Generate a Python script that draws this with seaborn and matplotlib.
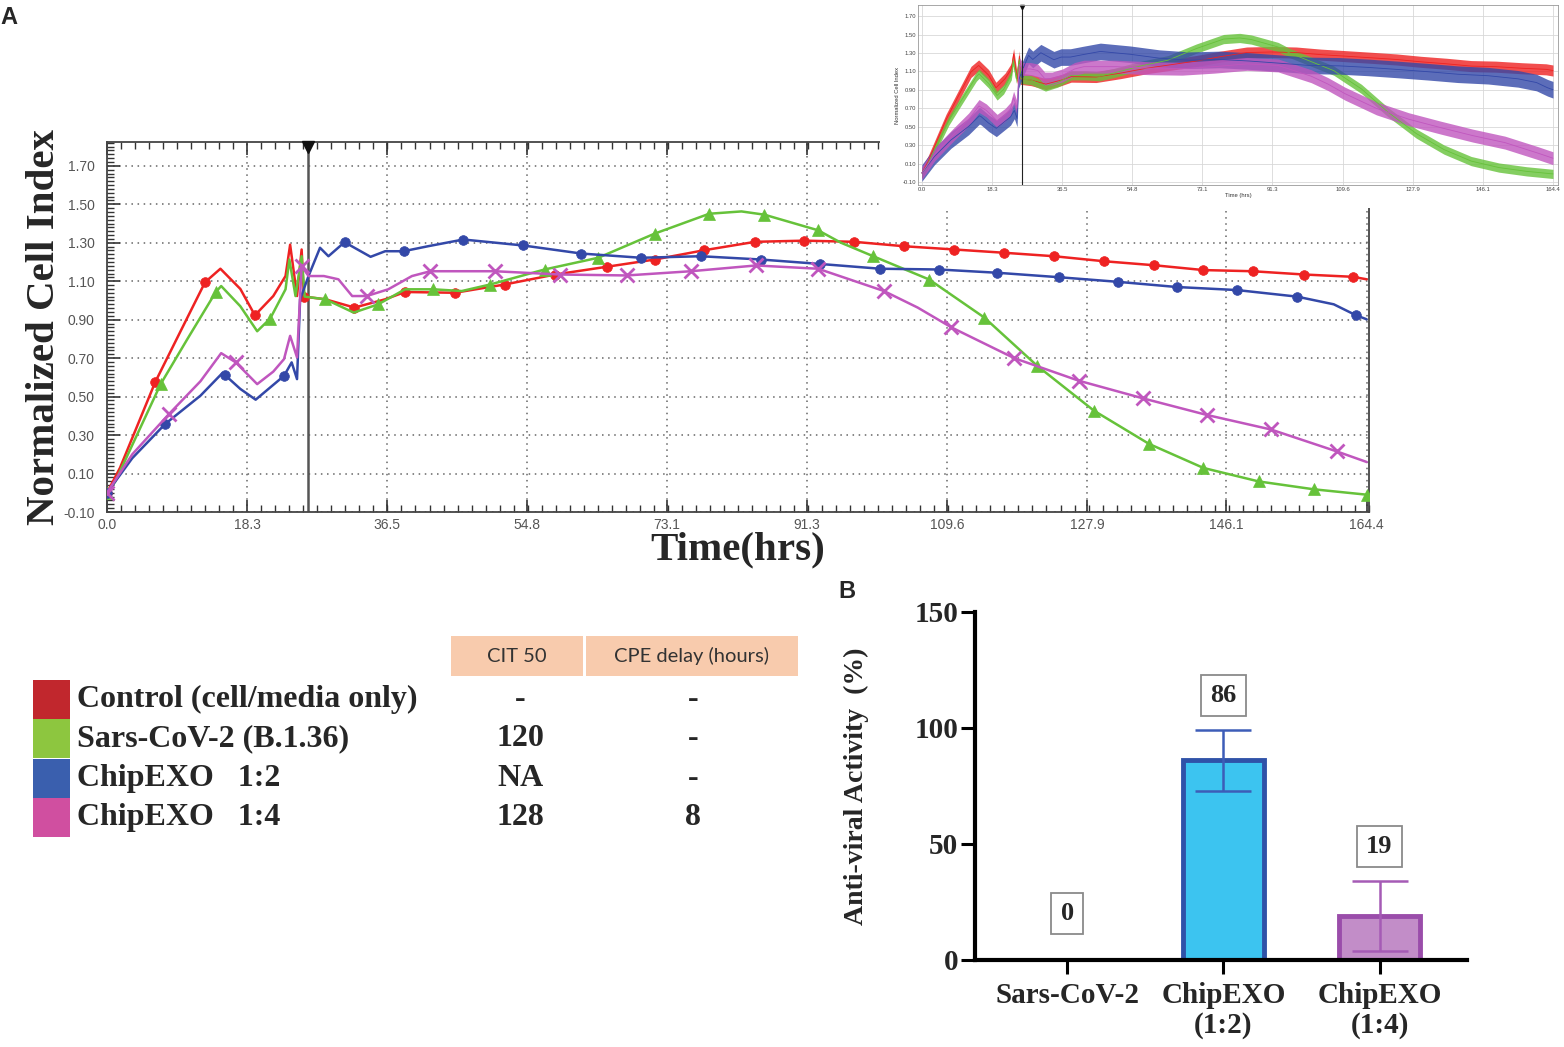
import numpy as np
import matplotlib
matplotlib.use("Agg")
import matplotlib.pyplot as plt
from matplotlib.ticker import AutoMinorLocator
from matplotlib.patches import Rectangle
import seaborn as sns

sns.set_theme(style="white")
plt.rcParams['font.family'] = ['Liberation Sans', 'DejaVu Sans']
SERIF = ['Liberation Serif', 'DejaVu Serif']

# ---- panel A : normalized cell index (hours, value) ----
ctrl_t = [0.0, 1.7, 6.3, 9.6, 12.8, 14.8, 17.4, 19.3, 21.7, 23.3, 23.9, 24.8, 25.4, 25.7,
          28.5, 32.3, 36.3, 38.9, 45.4, 51.9, 58.5, 65.2, 71.5, 77.9, 84.6, 91.0, 97.5,
          104.0, 110.6, 117.1, 123.6, 130.1, 136.7, 143.1, 149.5, 156.2, 162.6, 164.4]
ctrl_v = [0.0, 0.13, 0.576, 0.84, 1.095, 1.165, 1.06, 0.923, 1.023, 1.127, 1.29, 1.023, 1.265, 1.02,
          1.006, 0.963, 1.006, 1.044, 1.04, 1.083, 1.135, 1.175, 1.213, 1.261, 1.305, 1.311, 1.305,
          1.282, 1.265, 1.248, 1.230, 1.204, 1.183, 1.158, 1.152, 1.135, 1.123, 1.11]
ctrl_mk = [0.0, 6.3, 12.8, 19.3, 25.7, 32.3, 38.9, 45.4, 51.9, 58.5, 65.2, 71.5, 77.9, 84.6,
           91.0, 97.5, 104.0, 110.6, 117.1, 123.6, 130.1, 136.7, 143.1, 149.5, 156.2, 162.6]

sars_t = [0.0, 1.1, 7.0, 10.5, 14.2, 14.9, 17.4, 19.6, 21.3, 23.3, 23.8, 24.6, 25.4, 25.8,
          28.5, 32.2, 35.4, 38.9, 42.6, 46.3, 50.0, 57.1, 64.1, 71.5, 78.6, 82.8, 85.8, 92.8,
          95.8, 100.0, 107.3, 114.5, 121.4, 128.8, 136.0, 143.1, 150.3, 157.5, 164.4]
sars_v = [0.0, 0.06, 0.565, 0.80, 1.044, 1.075, 0.97, 0.84, 0.906, 1.058, 1.213, 1.023, 1.23, 1.02,
          1.006, 0.937, 0.98, 1.058, 1.058, 1.049, 1.083, 1.161, 1.222, 1.348, 1.451, 1.463, 1.446, 1.365,
          1.30, 1.23, 1.109, 0.911, 0.66, 0.427, 0.254, 0.129, 0.059, 0.018, -0.01]
sars_mk = [0.0, 7.0, 14.2, 21.3, 28.5, 35.4, 42.6, 50.0, 57.1, 64.1, 71.5, 78.6, 85.8, 92.8,
           100.0, 107.3, 114.5, 121.4, 128.8, 136.0, 143.1, 150.3, 157.5, 164.4]

exo12_t = [0.0, 3.3, 7.6, 12.2, 15.0, 15.4, 17.4, 19.4, 23.1, 24.1, 24.8, 25.2, 25.6, 26.3,
           27.8, 28.9, 31.0, 34.4, 36.3, 38.7, 41.9, 46.5, 54.3, 61.9, 69.7, 77.5, 85.3, 93.0,
           100.9, 108.6, 116.2, 124.2, 131.9, 139.6, 147.5, 155.3, 160.1, 163.0, 164.4]
exo12_v = [0.0, 0.18, 0.358, 0.505, 0.62, 0.612, 0.54, 0.484, 0.608, 0.678, 0.591, 1.006, 1.05, 1.127,
           1.274, 1.23, 1.303, 1.227, 1.256, 1.256, 1.282, 1.317, 1.286, 1.244, 1.222, 1.23, 1.213, 1.19,
           1.165, 1.161, 1.144, 1.121, 1.097, 1.07, 1.054, 1.02, 0.98, 0.923, 0.902]
exo12_mk = [0.0, 7.6, 15.4, 23.1, 31.0, 38.7, 46.5, 54.3, 61.9, 69.7, 77.5, 85.3, 93.0,
            100.9, 108.6, 116.2, 124.2, 131.9, 139.6, 147.5, 155.3, 163.0]

exo14_t = [0.0, 3.3, 8.1, 12.2, 14.9, 16.8, 19.6, 21.7, 23.1, 23.9, 24.8, 25.4, 26.3, 28.3,
           30.2, 32.0, 33.9, 36.7, 39.8, 42.2, 50.6, 59.1, 67.8, 76.2, 84.7, 92.8, 101.4, 105.8,
           110.2, 118.4, 126.8, 135.2, 143.5, 151.9, 160.5, 164.4]
exo14_v = [0.0, 0.20, 0.41, 0.58, 0.726, 0.678, 0.565, 0.63, 0.695, 0.816, 0.704, 1.178, 1.127, 1.127,
           1.11, 1.023, 1.023, 1.058, 1.127, 1.152, 1.152, 1.135, 1.13, 1.152, 1.182, 1.165, 1.049, 0.963,
           0.86, 0.70, 0.583, 0.491, 0.405, 0.329, 0.215, 0.16]
exo14_mk = [0.0, 8.1, 16.8, 25.4, 33.9, 42.2, 50.6, 59.1, 67.8, 76.2, 84.7, 92.8, 101.4,
            110.2, 118.4, 126.8, 135.2, 143.5, 151.9, 160.5]

# spread of the replicate band shown in the small inset
band_hw = [0.06, 0.05, 0.09, 0.07]

x_tick_labels = ["0.0", "18.3", "36.5", "54.8", "73.1", "91.3", "109.6", "127.9", "146.1", "164.4"]
y_tick_values = [-0.10, 0.10, 0.30, 0.50, 0.70, 0.90, 1.10, 1.30, 1.50, 1.70]
treat_time = 26.2

# ---- legend table ----
leg_labels = ["Control (cell/media only)", "Sars-CoV-2 (B.1.36)", "ChipEXO   1:2", "ChipEXO   1:4"]
leg_colors = ['#C1272D', '#8DC63F', '#3A5FAE', '#D04FA0']
cit50 = ["-", "120", "NA", "128"]
cpe_delay = ["-", "-", "-", "8"]

# ---- panel B : anti-viral activity ----
b_cats = ["Sars-CoV-2", "ChipEXO\n(1:2)", "ChipEXO\n(1:4)"]
b_vals = [0, 86, 19]
b_err = [0, 13, 15]
b_fill = ['#FFFFFF', '#3CC4F0', '#C28DC8']
b_edge = ['#FFFFFF', '#2F52A8', '#9A4DAA']
b_ecol = ['#FFFFFF', '#3D5DB8', '#A55BB5']

line_cols = ['#EE2222', '#66C23A', '#3348A8', '#C056BE']
markers = ['o', '^', 'o', 'x']
msizes = [7, 8.5, 7, 10]
series = [(ctrl_t, ctrl_v, ctrl_mk), (sars_t, sars_v, sars_mk),
          (exo12_t, exo12_v, exo12_mk), (exo14_t, exo14_v, exo14_mk)]

W, H = 1564, 1047
fig = plt.figure(figsize=(W / 100, H / 100), dpi=100)
fig.patch.set_facecolor('white')


def px_box(x0, y0, x1, y1):
    return [x0 / W, 1 - y1 / H, (x1 - x0) / W, (y1 - y0) / H]


# main time course
ax = fig.add_axes(px_box(107, 142, 1369, 512), zorder=1)
for (t, v, mk), c, m, ms in zip(series, line_cols, markers, msizes):
    idx = list(np.flatnonzero(np.isin(t, mk)))
    sns.lineplot(x=t, y=v, ax=ax, color=c, lw=1.8, marker=m, markersize=ms,
                 markevery=idx, markeredgecolor=c, markeredgewidth=2 if m == 'x' else 0.5,
                 zorder=3)
ax.axvline(treat_time, color='#555555', lw=1.8, zorder=2)
ax.plot(treat_time, 1.80, marker='v', color='#111111', ms=8, clip_on=False, zorder=4)

ax.set_xlim(0, 164.7)
ax.set_ylim(-0.10, 1.824)
ax.set_xticks([float(s) for s in x_tick_labels])
ax.set_xticklabels(x_tick_labels)
ax.set_yticks(y_tick_values)
ax.set_yticklabels([f"{v:.2f}" for v in y_tick_values])
ax.xaxis.set_minor_locator(AutoMinorLocator(10))
ax.yaxis.set_minor_locator(AutoMinorLocator(10))
ax.tick_params(which='major', direction='in', length=9, width=1.2, color='#333333',
               top=True, bottom=True, left=True, right=False,
               labelsize=10, labelcolor='#555555')
ax.tick_params(axis='y', which='major', pad=9)
ax.tick_params(axis='x', which='major', pad=4)
ax.tick_params(which='minor', direction='in', length=5, width=1.0, color='#333333',
               top=True, bottom=True, left=True, right=False)
ax.grid(True, which='major', ls=(0, (1, 3)), color='#666666', lw=1.1)
for sp in ax.spines.values():
    sp.set_color('#444444')
    sp.set_linewidth(1.3)
ax.set_xlabel("Time(hrs)", fontsize=29.5, fontweight='bold', family=SERIF, labelpad=0)
ax.set_ylabel("Normalized Cell Index", fontsize=29.5, fontweight='bold', family=SERIF, labelpad=0)

# white patch + inset with replicate bands
fig.add_artist(Rectangle((880 / W, 1 - 208 / H), (W - 880) / W, 208 / H,
                         transform=fig.transFigure, facecolor='white', edgecolor='none', zorder=2))
axi = fig.add_axes(px_box(918, 5, 1558, 185), zorder=3)
for (t, v, mk), c, hw in zip(series, line_cols, band_hw):
    v = np.array(v)
    axi.fill_between(t, v - hw, v + hw, color=c, alpha=0.8, lw=0)
    sns.lineplot(x=t, y=v, ax=axi, color=c, lw=0.6)
axi.axvline(treat_time, color='#222222', lw=0.8)
axi.plot(treat_time, 1.80, marker='v', color='#111111', ms=3, clip_on=False)
axi.set_xlim(-1, 165.7)
axi.set_ylim(-0.13, 1.82)
axi.set_xticks([float(s) for s in x_tick_labels])
axi.set_xticklabels(x_tick_labels)
axi.set_yticks(y_tick_values)
axi.set_yticklabels([f"{v:.2f}" for v in y_tick_values])
axi.tick_params(labelsize=4.2, labelcolor='#444444', length=2, width=0.5, pad=1.5, direction='in')
axi.grid(True, color='#D8D8D8', lw=0.6)
for sp in axi.spines.values():
    sp.set_color('#999999')
    sp.set_linewidth(0.6)
axi.set_xlabel("Time (hrs)", fontsize=4.2, labelpad=1, color='#333333')
axi.set_ylabel("Normalized Cell Index", fontsize=4.2, labelpad=2, color='#333333')

# legend / table
axt = fig.add_axes(px_box(0, 630, 820, 845))
axt.set_xlim(0, 820)
axt.set_ylim(845, 630)
axt.axis('off')
axt.add_patch(Rectangle((451, 636), 132, 40, facecolor='#F8CBAD', edgecolor='none'))
axt.add_patch(Rectangle((586, 636), 212, 40, facecolor='#F8CBAD', edgecolor='none'))
axt.text(517, 656, "CIT 50", ha='center', va='center', fontsize=14.5, family=['Lato', 'DejaVu Sans'],
         color='#333333')
axt.text(692, 656, "CPE delay (hours)", ha='center', va='center', fontsize=14.5,
         family=['Lato', 'DejaVu Sans'], color='#333333')
for i, (lab, col, c50, cpe) in enumerate(zip(leg_labels, leg_colors, cit50, cpe_delay)):
    yc = 699 + 39.5 * i
    axt.add_patch(Rectangle((33, yc - 19.5), 37, 39, facecolor=col, edgecolor='none'))
    axt.text(77, yc, lab, ha='left', va='center', fontsize=23, fontweight='bold', family=SERIF)
    axt.text(520, yc, c50, ha='center', va='center', fontsize=23, fontweight='bold', family=SERIF)
    axt.text(693, yc, cpe, ha='center', va='center', fontsize=23, fontweight='bold', family=SERIF)

# panel B bars
axb = fig.add_axes(px_box(975, 612, 1467, 960))
sns.barplot(x=b_cats, y=b_vals, hue=b_cats, palette=b_fill, legend=False, width=0.52,
            saturation=1, ax=axb, errorbar=None)
for p, ec in zip(axb.patches, b_edge):
    p.set_edgecolor(ec)
    p.set_linewidth(3.5)
for i, (v, e, ec) in enumerate(zip(b_vals, b_err, b_ecol)):
    if e > 0:
        axb.errorbar(i, v, yerr=e, fmt='none', ecolor=ec, elinewidth=1.8, capsize=20, capthick=1.8)
    axb.text(i, max(v + e + 15, 20), str(v), ha='center', va='center', fontsize=19,
             fontweight='bold', family=SERIF,
             bbox=dict(boxstyle='square,pad=0.35', fc='white', ec='#8A8A8A', lw=1.3))
axb.set_xlim(-0.59, 2.56)
axb.set_ylim(0, 150)
axb.set_yticks([0, 50, 100, 150])
sns.despine(ax=axb)
for side in ['left', 'bottom']:
    axb.spines[side].set_color('black')
    axb.spines[side].set_linewidth(3)
axb.tick_params(direction='out', length=10, width=2.2, color='black', left=True, bottom=True)
axb.tick_params(axis='x', pad=6)
axb.tick_params(axis='y', pad=2)
for lab in axb.get_xticklabels() + axb.get_yticklabels():
    lab.set_fontsize(21)
    lab.set_fontweight('bold')
    lab.set_family(SERIF)
for lab in axb.get_xticklabels():
    lab.set_linespacing(1.1)
axb.set_ylabel("Anti-viral Activity  (%)", fontsize=20, fontweight='bold', family=SERIF, labelpad=33)
axb.set_xlabel("")

fig.text(0.0, 1 - 18 / H, "A", fontsize=17, fontweight='bold', va='center', ha='left')
fig.text(838 / W, 1 - 592 / H, "B", fontsize=17, fontweight='bold', va='center', ha='left')

fig.savefig("out.png", dpi=100)
